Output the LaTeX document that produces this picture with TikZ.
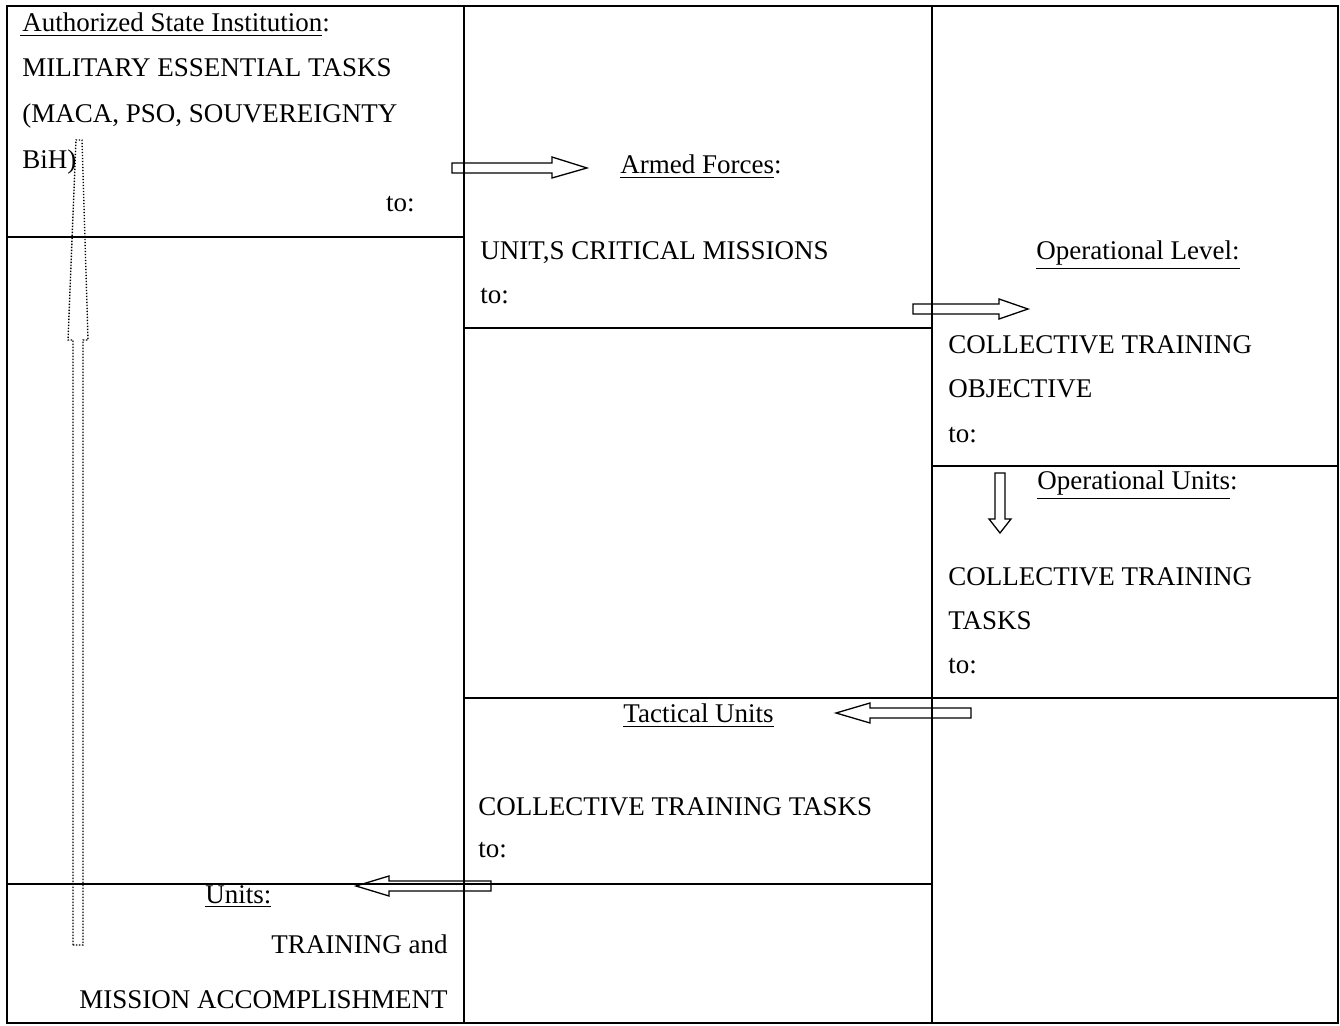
\documentclass[tikz,border=0pt]{standalone}
\usepackage{fontspec}
\setmainfont{Liberation Serif}
\usetikzlibrary{positioning}

\begin{document}
\begin{tikzpicture}[x=0.5pt, y=-0.5pt,
  every node/.style={inner sep=0pt, font=\fontsize{13.5}{16}\selectfont},
  grid/.style={line width=0.9pt},
  hollow/.style={draw, line width=0.65pt, line join=miter},
  dots/.style={line width=0.7pt, dash pattern=on 0.7pt off 0.8pt}]
  \useasboundingbox (0,0) rectangle (1340,1026);

  % table lines
  \draw[grid] (7,6) rectangle (1338,1023);
  \draw[grid] (464,6) -- (464,1023);
  \draw[grid] (932,6) -- (932,1023);
  \draw[grid] (7,237) -- (464,237);
  \draw[grid] (7,884) -- (932,884);
  \draw[grid] (464,328) -- (932,328);
  \draw[grid] (932,466) -- (1338,466);
  \draw[grid] (464,698) -- (1338,698);

  % authorized state institution
  \node[anchor=base west] (ASI) at (20,32) {\underline{\hspace{1pt}Authorized State Institution}:};
  \node[anchor=base west] (MET) at (22,77) {MILITARY ESSENTIAL TASKS};
  \node[below=23pt of MET.base west, anchor=base west] (MACA) {(MACA, PSO, SOUVEREIGNTY};
  \node[below=23pt of MACA.base west, anchor=base west] (BiH) {BiH)};
  \node[anchor=base east] (to1) at (415,212) {to:};

  % armed forces
  \node[anchor=base west] (AF) at (620,174) {\underline{Armed Forces}:};
  \node[anchor=base west] (UCM) at (480,260) {UNIT,S CRITICAL MISSIONS};
  \node[below=22pt of UCM.base west, anchor=base west] (to2) {to:};

  % operational level
  \node[anchor=base west] (OL) at (1036,260) {\underline{Operational Level:}};
  \node[anchor=base west] (CTO) at (948,354) {COLLECTIVE TRAINING};
  \node[below=22pt of CTO.base west, anchor=base west] (OBJ) {OBJECTIVE};
  \node[below=22.5pt of OBJ.base west, anchor=base west] (to3) {to:};

  % operational units
  \node[anchor=base west] (OU) at (1037,490) {\underline{Operational Units}:};
  \node[anchor=base west] (CTT) at (948,586) {COLLECTIVE TRAINING};
  \node[below=22pt of CTT.base west, anchor=base west] (TASKS) {TASKS};
  \node[below=22pt of TASKS.base west, anchor=base west] (to4) {to:};

  % tactical units
  \node[anchor=base west] (TU) at (623,723) {\underline{Tactical Units}};
  \node[anchor=base west] (CTTT) at (478,815) {COLLECTIVE TRAINING TASKS};
  \node[below=21pt of CTTT.base west, anchor=base west] (to5) {to:};

  % units
  \node[anchor=base west] (UN) at (205,903) {\underline{Units:}};
  \node[anchor=base east] (TRA) at (448,953) {TRAINING and};
  \node[below=27.5pt of TRA.base east, anchor=base east] (MIS) {MISSION ACCOMPLISHMENT};

  % hollow arrows
  \draw[hollow] (452,163) -- (552,163) -- (552,157) -- (587,168) -- (552,178) -- (552,173) -- (452,173) -- cycle;
  \draw[hollow] (913,304) -- (999,304) -- (999,299) -- (1028,309) -- (999,319) -- (999,314) -- (913,314) -- cycle;
  \draw[hollow] (995,473) -- (1005,473) -- (1005,519) -- (1011,519) -- (1000,533) -- (989,519) -- (995,519) -- cycle;
  \draw[hollow] (971,708) -- (870,708) -- (870,703) -- (836,713) -- (870,723) -- (870,718) -- (971,718) -- cycle;
  \draw[hollow] (491,881) -- (389,881) -- (389,876) -- (356,886) -- (389,896) -- (389,891) -- (491,891) -- cycle;

  % dotted feedback arrow
  \draw[dots] (73,945) -- (73,340) -- (68,340) -- (76,140) -- (82,140) -- (88,340) -- (83,340) -- (83,945) -- cycle;
\end{tikzpicture}
\end{document}
